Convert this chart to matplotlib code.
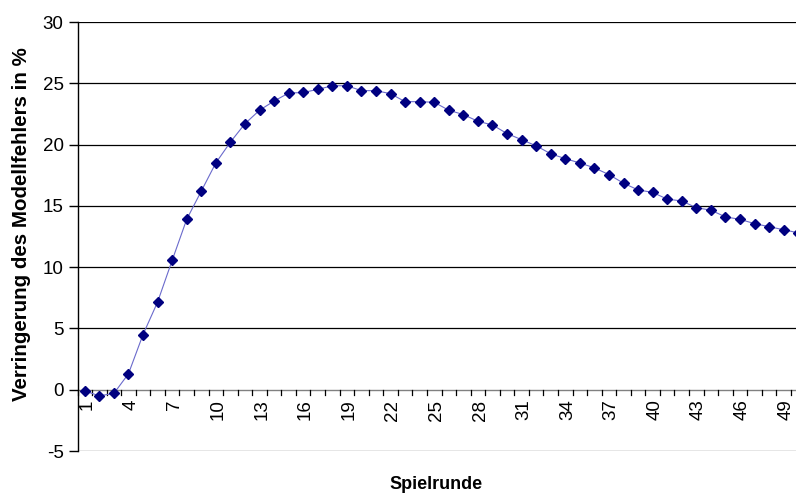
import numpy as np
import matplotlib.pyplot as plt

plt.rcParams['font.family'] = ['Liberation Sans', 'DejaVu Sans']

# Spielrunde 1..50
runden = np.arange(1, 51)
# Verringerung des Modellfehlers in %
verringerung = [
    -0.1, -0.5, -0.3, 1.3, 4.5, 7.15, 10.55, 13.9, 16.2, 18.5,
    20.2, 21.7, 22.8, 23.55, 24.2, 24.25, 24.5, 24.8, 24.8, 24.4,
    24.4, 24.15, 23.5, 23.5, 23.45, 22.8, 22.45, 21.9, 21.6, 20.9,
    20.4, 19.9, 19.25, 18.85, 18.5, 18.1, 17.55, 16.85, 16.3, 16.1,
    15.55, 15.4, 14.85, 14.65, 14.1, 13.9, 13.55, 13.3, 13.05, 12.8,
]
y_ticks = [-5, 0, 5, 10, 15, 20, 25, 30]
x_labels = list(range(1, 51, 3))

fig = plt.figure(figsize=(7.96, 4.94), dpi=100)
# axes runs a bit past the right edge of the image, like the original
ax = fig.add_axes([77.5 / 796, 1 - 451 / 494, 728 / 796, (451 - 22) / 494])

for v in y_ticks[2:]:
    ax.axhline(v, color='black', lw=0.9, zorder=1)
ax.axhline(-5, color='#808080', lw=1.0, zorder=1)
ax.axhline(0, color='#808080', lw=1.0, zorder=2)

ax.plot(runden, verringerung, color='#6a6acc', lw=0.8, zorder=3)
ax.plot(runden, verringerung, linestyle='none', marker='D', markersize=5.5,
        color='#000080', zorder=4)

ax.set_xlim(0.5, 50.5)
ax.set_ylim(-5, 30)
ax.set_yticks(y_ticks)
ax.set_yticklabels([str(v) for v in y_ticks], fontsize=13.5)
ax.tick_params(axis='y', direction='out', length=6.5, width=1, pad=3.5)

for s in ['top', 'right', 'bottom']:
    ax.spines[s].set_visible(False)
ax.spines['left'].set_linewidth(1.0)

# category ticks on the zero line, labels every third round
ax.set_xticks([])
for b in np.arange(0.5, 51, 1):
    ax.plot([b, b], [0, -0.4], color='black', lw=0.9, clip_on=False, zorder=2)
for n in x_labels:
    ax.text(n + 0.15, -0.8, str(n), rotation=90, ha='center', va='top',
            fontsize=13.5)

ax.set_ylabel('Verringerung des Modellfehlers in %', fontsize=14.8,
              fontweight='bold')
ax.yaxis.set_label_coords(-0.064, 0.53)
fig.text(436 / 796, 1 - 484 / 494, 'Spielrunde', ha='center', va='center',
         fontsize=13, fontweight='bold')

fig.savefig('out.png', dpi=100)
